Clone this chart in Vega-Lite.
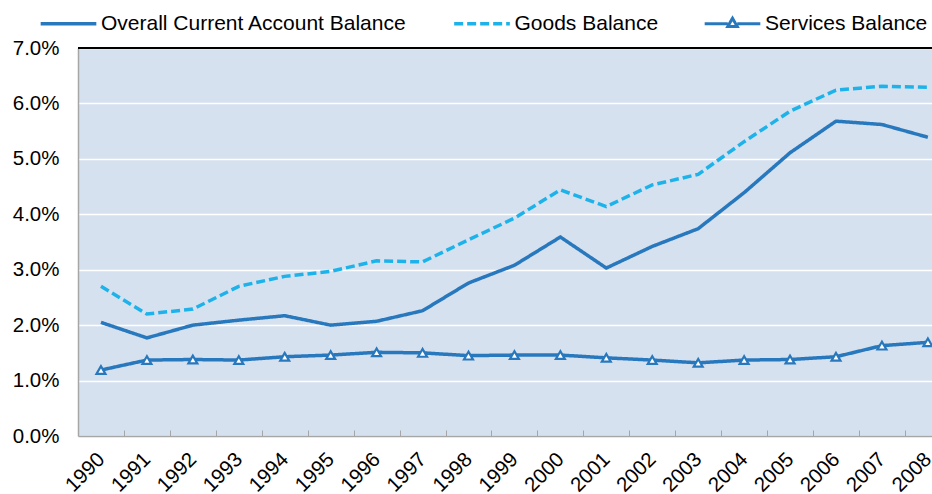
{
  "$schema": "https://vega.github.io/schema/vega-lite/v6.json",
  "width": 854,
  "height": 388,
  "autosize": {"type": "none"},
  "padding": {"left": 78, "top": 48, "right": 0, "bottom": 58},
  "background": "white",
  "config": {
    "font": "Liberation Sans",
    "view": {"fill": "#D6E1EF", "stroke": null}
  },
  "data": {
    "values": [
      {"year": 1990, "series": "Overall Current Account Balance", "value": 0.0205},
      {"year": 1991, "series": "Overall Current Account Balance", "value": 0.0177},
      {"year": 1992, "series": "Overall Current Account Balance", "value": 0.0200},
      {"year": 1993, "series": "Overall Current Account Balance", "value": 0.0209},
      {"year": 1994, "series": "Overall Current Account Balance", "value": 0.0217},
      {"year": 1995, "series": "Overall Current Account Balance", "value": 0.0200},
      {"year": 1996, "series": "Overall Current Account Balance", "value": 0.0207},
      {"year": 1997, "series": "Overall Current Account Balance", "value": 0.0226},
      {"year": 1998, "series": "Overall Current Account Balance", "value": 0.0276},
      {"year": 1999, "series": "Overall Current Account Balance", "value": 0.0308},
      {"year": 2000, "series": "Overall Current Account Balance", "value": 0.0359},
      {"year": 2001, "series": "Overall Current Account Balance", "value": 0.0303},
      {"year": 2002, "series": "Overall Current Account Balance", "value": 0.0342},
      {"year": 2003, "series": "Overall Current Account Balance", "value": 0.0374},
      {"year": 2004, "series": "Overall Current Account Balance", "value": 0.0439},
      {"year": 2005, "series": "Overall Current Account Balance", "value": 0.0511},
      {"year": 2006, "series": "Overall Current Account Balance", "value": 0.0568},
      {"year": 2007, "series": "Overall Current Account Balance", "value": 0.0562},
      {"year": 2008, "series": "Overall Current Account Balance", "value": 0.0539},
      {"year": 1990, "series": "Goods Balance", "value": 0.0270},
      {"year": 1991, "series": "Goods Balance", "value": 0.0220},
      {"year": 1992, "series": "Goods Balance", "value": 0.0229},
      {"year": 1993, "series": "Goods Balance", "value": 0.0270},
      {"year": 1994, "series": "Goods Balance", "value": 0.0288},
      {"year": 1995, "series": "Goods Balance", "value": 0.0297},
      {"year": 1996, "series": "Goods Balance", "value": 0.0316},
      {"year": 1997, "series": "Goods Balance", "value": 0.0314},
      {"year": 1998, "series": "Goods Balance", "value": 0.0354},
      {"year": 1999, "series": "Goods Balance", "value": 0.0393},
      {"year": 2000, "series": "Goods Balance", "value": 0.0444},
      {"year": 2001, "series": "Goods Balance", "value": 0.0414},
      {"year": 2002, "series": "Goods Balance", "value": 0.0453},
      {"year": 2003, "series": "Goods Balance", "value": 0.0472},
      {"year": 2004, "series": "Goods Balance", "value": 0.0531},
      {"year": 2005, "series": "Goods Balance", "value": 0.0586},
      {"year": 2006, "series": "Goods Balance", "value": 0.0624},
      {"year": 2007, "series": "Goods Balance", "value": 0.0631},
      {"year": 2008, "series": "Goods Balance", "value": 0.0629},
      {"year": 1990, "series": "Services Balance", "value": 0.0119},
      {"year": 1991, "series": "Services Balance", "value": 0.0137},
      {"year": 1992, "series": "Services Balance", "value": 0.0138},
      {"year": 1993, "series": "Services Balance", "value": 0.0137},
      {"year": 1994, "series": "Services Balance", "value": 0.0143},
      {"year": 1995, "series": "Services Balance", "value": 0.0146},
      {"year": 1996, "series": "Services Balance", "value": 0.0151},
      {"year": 1997, "series": "Services Balance", "value": 0.0150},
      {"year": 1998, "series": "Services Balance", "value": 0.0145},
      {"year": 1999, "series": "Services Balance", "value": 0.0146},
      {"year": 2000, "series": "Services Balance", "value": 0.0146},
      {"year": 2001, "series": "Services Balance", "value": 0.0141},
      {"year": 2002, "series": "Services Balance", "value": 0.0137},
      {"year": 2003, "series": "Services Balance", "value": 0.0132},
      {"year": 2004, "series": "Services Balance", "value": 0.0137},
      {"year": 2005, "series": "Services Balance", "value": 0.0138},
      {"year": 2006, "series": "Services Balance", "value": 0.0143},
      {"year": 2007, "series": "Services Balance", "value": 0.0163},
      {"year": 2008, "series": "Services Balance", "value": 0.0169}
    ]
  },
  "encoding": {
    "x": {
      "field": "year",
      "type": "quantitative",
      "scale": {"domain": [1989.5, 2008.09], "nice": false, "zero": false},
      "axis": {
        "title": null,
        "values": [1990, 1991, 1992, 1993, 1994, 1995, 1996, 1997, 1998, 1999, 2000, 2001, 2002, 2003, 2004, 2005, 2006, 2007, 2008],
        "format": "d",
        "grid": false,
        "tickOffset": 23,
        "labelOffset": -23,
        "tickSize": -6,
        "tickColor": "#A6A6A6",
        "tickWidth": 1,
        "domainColor": "#A6A6A6",
        "domainWidth": 1.5,
        "labelAngle": -45,
        "labelAlign": "right",
        "labelBaseline": "middle",
        "labelPadding": 26,
        "labelFontSize": 20.5,
        "labelColor": "black",
        "labelFlush": false,
        "labelOverlap": false
      }
    },
    "y": {
      "field": "value",
      "type": "quantitative",
      "scale": {"domain": [0, 0.07], "nice": false},
      "axis": {
        "title": null,
        "values": [0, 0.01, 0.02, 0.03, 0.04, 0.05, 0.06, 0.07],
        "format": ".1%",
        "ticks": false,
        "tickSize": 0,
        "labelPadding": 19,
        "labelFontSize": 20.5,
        "labelColor": "black",
        "domainColor": "#A6A6A6",
        "domainWidth": 1.5,
        "gridColor": "white",
        "gridWidth": 1.5,
        "labelFlush": false
      }
    }
  },
  "layer": [
    {
      "mark": {"type": "line", "strokeWidth": 3.5},
      "encoding": {
        "color": {
          "field": "series",
          "type": "nominal",
          "scale": {
            "domain": ["Overall Current Account Balance", "Goods Balance", "Services Balance"],
            "range": ["#2878BE", "#1DB3EA", "#2878BE"]
          },
          "legend": {
            "title": null,
            "orient": "none",
            "legendX": -20,
            "legendY": -35,
            "direction": "horizontal",
            "padding": 0,
            "symbolType": "stroke",
            "symbolSize": 3100,
            "symbolStrokeWidth": 3.5,
            "labelFontSize": 21,
            "labelColor": "black",
            "labelOffset": 22,
            "columnPadding": 39.5,
            "labelLimit": 0,
            "encode": {
              "symbols": {
                "update": {
                  "strokeDash": {"signal": "datum.value === 'Goods Balance' ? [9, 4] : [1, 0]"},
                  "shape": {"signal": "datum.value === 'Services Balance' ? 'M-1,0H-0.17M0.17,0H1M-0.17,0.1L0,-0.2L0.17,0.1Z' : 'stroke'"},
                  "fill": {"signal": "datum.value === 'Services Balance' ? 'white' : 'transparent'"},
                  "strokeWidth": {"signal": "datum.value === 'Services Balance' ? 3 : 3.5"}
                }
              }
            }
          }
        },
        "strokeDash": {
          "field": "series",
          "type": "nominal",
          "scale": {
            "domain": ["Overall Current Account Balance", "Goods Balance", "Services Balance"],
            "range": [[1, 0], [9, 4], [1, 0]]
          },
          "legend": null
        }
      }
    },
    {
      "transform": [{"filter": "datum.series === 'Services Balance'"}],
      "mark": {"type": "point", "shape": "triangle-up", "filled": true, "fill": "white", "stroke": "#2878BE", "strokeWidth": 2.2, "size": 80, "opacity": 1}
    },
    {
      "mark": {"type": "rule", "color": "black", "strokeWidth": 1.5},
      "encoding": {"y": {"datum": 0.07}, "x": {"value": 0}, "x2": {"value": 854}}
    }
  ]
}
